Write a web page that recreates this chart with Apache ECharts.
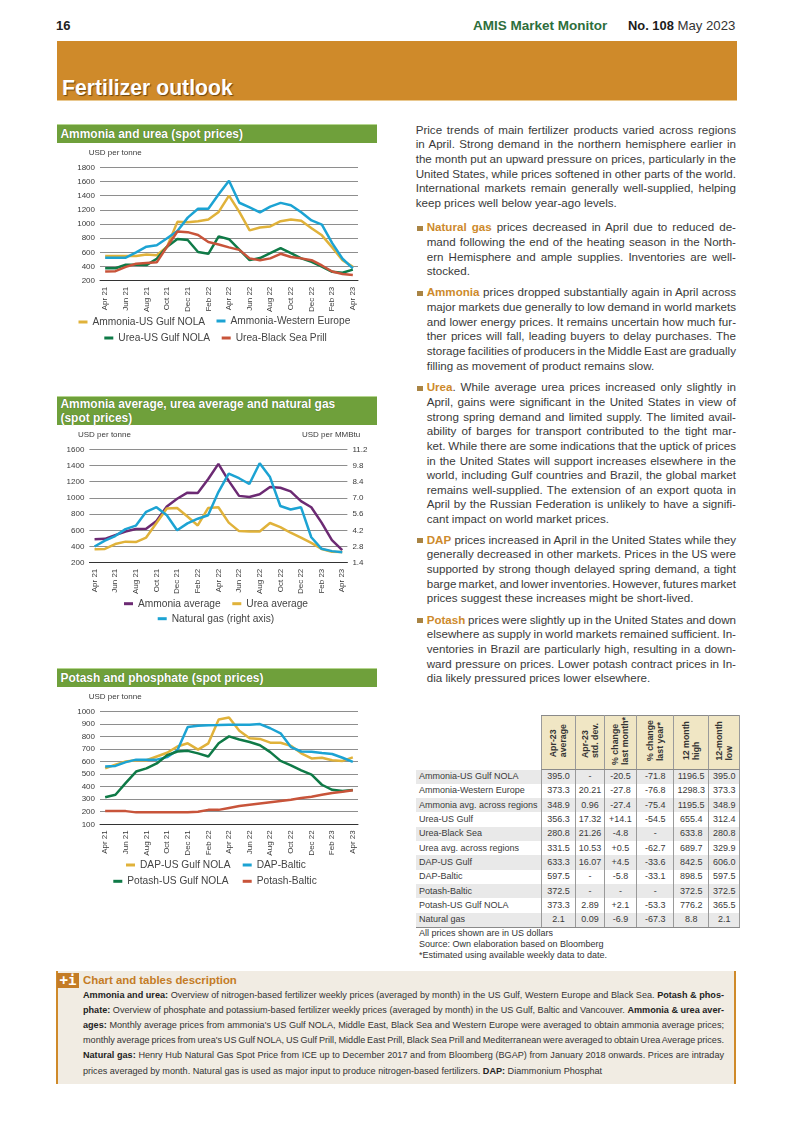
<!DOCTYPE html>
<html><head><meta charset="utf-8">
<script src="https://cdn.jsdelivr.net/npm/echarts@6/dist/echarts.min.js"></script>
<style>
html,body{margin:0;padding:0;background:#fff}
body{position:relative;width:793px;height:1122px;overflow:hidden;font-family:"Liberation Sans",Arial,sans-serif;color:#333}
.a{position:absolute;white-space:nowrap}
.bar{position:absolute;left:57px;width:320px;background:#6fa03b;border-top:1px solid #b5d68f;box-sizing:border-box;color:#fff;font-weight:bold;font-size:11.95px;line-height:14.3px;padding-left:3.5px;text-shadow:0 0 1px #3d5c1e}
.chart{position:absolute;left:50px;width:340px}
.ln{position:absolute;white-space:nowrap;font-size:11.6px;line-height:14.6px;height:14.6px;color:#3a3a3a}
.ln b{color:#cd8a2c}
.sq{position:absolute;left:417px;width:5.5px;height:5.5px;background:#a98444}
.d{position:absolute;white-space:nowrap;font-size:9.1px;line-height:15px;height:15px;color:#333}
.d b{color:#222}
table{position:absolute;left:416px;top:715px;border-collapse:collapse;table-layout:fixed;font-size:9px;color:#3a3a3a}
td,th{padding:0;height:14.33px;line-height:13px;box-sizing:border-box;text-align:center;overflow:hidden;white-space:nowrap}
td.v,th.v{border-left:1px solid #9a9a9a;border-right:1px solid #9a9a9a}
td.n{text-align:left;padding-left:3px}
tr.s td{background:#e9e9e9}
tr:last-child td{border-bottom:1px solid #8a8a8a}
th.v{background:#f0e6c4;border-top:1px solid #8a8a8a;border-bottom:1px solid #8a8a8a;height:54px;color:#333}
th.v div{writing-mode:vertical-rl;transform:rotate(180deg);font-size:8.8px;line-height:10.3px;font-weight:bold;display:inline-block;text-align:left}
</style></head>
<body>
<div class="a" style="left:56px;top:18px;font-size:13px;font-weight:bold;color:#222">16</div>
<div class="a" style="left:473px;top:18px;font-size:13.5px;font-weight:bold;color:#2e6e3c">AMIS Market Monitor</div>
<div class="a" style="left:628px;top:18px;font-size:12.9px;font-weight:bold;color:#1c1c1c">No. 108 <span style="font-weight:normal;color:#333;font-size:13.2px">May 2023</span></div>
<div style="position:absolute;left:57px;top:41px;width:680px;height:60px;background:#cf8a2a;border-bottom:1px solid #e9c88f;box-sizing:border-box"></div>
<div class="a" style="left:62px;top:76px;font-size:21.2px;font-weight:bold;color:#fff;text-shadow:1px 1px 1px #6b4510">Fertilizer outlook</div>

<div class="bar" style="top:124px;height:19px;line-height:19px">Ammonia and urea (spot prices)</div>
<div class="bar" style="top:396px;height:28.5px;padding-top:0">Ammonia average, urea average and natural gas<br>(spot prices)</div>
<div class="bar" style="top:668px;height:19px;line-height:19px">Potash and phosphate (spot prices)</div>

<div id="c1" class="chart" style="top:145px;height:205px"></div>
<div id="c2" class="chart" style="top:428px;height:205px"></div>
<div id="c3" class="chart" style="top:690px;height:205px"></div>

<div id="body"></div>
<table id="tb"></table>
<div class="a" style="left:419px;top:928px;font-size:9px;line-height:11.1px;color:#333">All prices shown are in US dollars<br>Source: Own elaboration based on Bloomberg<br>*Estimated using available weekly data to date.</div>

<div style="position:absolute;left:56px;top:971px;width:680px;height:113px;background:#f1ece3;border-left:2px solid #cf8a2a;border-right:2px solid #cf8a2a;box-sizing:border-box"></div>
<div class="a" style="left:57px;top:973px;width:22px;height:15px;background:#c47c26;color:#fff;font:bold 14px/15px 'DejaVu Sans Mono',monospace;text-align:center">+i</div>
<div class="a" style="left:83px;top:973px;font-size:11.4px;line-height:15px;font-weight:bold;color:#c47c26">Chart and tables description</div>
<div id="desc"></div>

<script>
// ---------- chart data ----------
var months = ['Apr 21','May 21','Jun 21','Jul 21','Aug 21','Sep 21','Oct 21','Nov 21','Dec 21','Jan 22','Feb 22','Mar 22','Apr 22','May 22','Jun 22','Jul 22','Aug 22','Sep 22','Oct 22','Nov 22','Dec 22','Jan 23','Feb 23','Mar 23','Apr 23'];

var ammoniaUS   = [550,550,550,550,570,560,680,1030,1025,1040,1065,1170,1400,1170,910,950,965,1040,1065,1045,940,840,670,490,395];
var ammoniaWE   = [525,525,525,600,680,700,800,900,1090,1215,1215,1420,1610,1300,1235,1165,1245,1298,1265,1165,1050,990,730,510,373];
var ureaUS      = [375,375,425,425,420,510,680,790,775,605,580,825,785,640,490,520,590,660,590,515,465,400,325,312,356];
var ureaBS      = [330,335,395,440,450,460,680,895,885,845,745,710,670,635,515,490,515,580,535,515,490,415,330,295,281];

var ammoniaAvg  = [490,495,540,585,615,620,715,895,990,1065,1060,1230,1420,1210,1025,1012,1045,1135,1125,1080,960,885,695,480,355];
var ureaAvg     = [365,370,430,460,455,510,690,870,875,770,660,875,885,695,590,585,585,690,640,570,510,445,370,335,331];
var natGas      = [2.8,3.3,3.7,4.3,4.6,5.8,6.2,5.5,4.2,4.8,5.2,5.5,7.5,9.1,8.7,8.2,10.0,8.8,6.3,6.0,6.2,3.6,2.6,2.4,2.3];

var dapUS       = [545,575,600,610,610,640,670,720,745,695,745,935,950,845,785,780,750,750,725,665,625,630,610,605,633];
var dapBaltic   = [560,565,595,615,615,615,635,690,875,885,888,890,893,893,893,898,865,825,715,680,678,668,660,630,597];
var potashUS    = [315,335,430,520,545,585,650,680,685,665,640,745,800,775,755,730,675,605,570,530,495,415,375,365,373];
var potashBaltic= [205,205,205,195,195,195,195,195,195,200,215,215,230,245,255,265,275,285,295,310,320,335,350,360,372];

// ---------- table data ----------
var tableHeaders = ['Apr-23<br>average','Apr-23<br>std. dev.','% change<br>last month*','% change<br>last year*','12 month<br>high','12-month<br>low'];
var tableRowNames = ['Ammonia-US Gulf NOLA','Ammonia-Western Europe','Ammonia avg. across regions','Urea-US Gulf','Urea-Black Sea','Urea avg. across regions','DAP-US Gulf','DAP-Baltic','Potash-Baltic','Potash-US Gulf NOLA','Natural gas'];
var colAverage = ['395.0','373.3','348.9','356.3','280.8','331.5','633.3','597.5','372.5','373.3','2.1'];
var colStdDev  = ['-','20.21','0.96','17.32','21.26','10.53','16.07','-','-','2.89','0.09'];
var colMonth   = ['-20.5','-27.8','-27.4','+14.1','-4.8','+0.5','+4.5','-5.8','-','+2.1','-6.9'];
var colYear    = ['-71.8','-76.8','-75.4','-54.5','-','-62.7','-33.6','-33.1','-','-53.3','-67.3'];
var colHigh    = ['1196.5','1298.3','1195.5','655.4','633.8','689.7','842.5','898.5','372.5','776.2','8.8'];
var colLow     = ['395.0','373.3','348.9','312.4','280.8','329.9','606.0','597.5','372.5','365.5','2.1'];

// ---------- colours ----------
var YEL='#e0b23a', BLU='#1ca3d3', GRN='#0f7a47', RED='#c8543a', PUR='#6c2a73';

// ---------- chart builder; coordinates in page pixels ----------
var FONT='"Liberation Sans",Arial,sans-serif';
function build(id, divTop, cfg){
  var ox=50, oy=divTop;
  var chart=echarts.init(document.getElementById(id),null,{renderer:'canvas'});
  var legends=cfg.series.map(function(s){
    return {show:true,data:[s.name],left:s.lx-ox,top:s.ly-oy-5,orient:'horizontal',icon:'rect',itemWidth:9,itemHeight:3,
      padding:0,textStyle:{fontFamily:FONT,fontSize:10.2,color:'#444'},selectedMode:false};
  });
  var yAxes=[{type:'value',min:cfg.min,max:cfg.max,interval:cfg.interval,
    axisLine:{show:false},axisTick:{show:false},
    axisLabel:{fontFamily:FONT,fontSize:8,color:'#3a3a3a',margin:5,formatter:function(v){return String(v);}},
    splitLine:{lineStyle:{color:'#8e8e8e',width:1}}}];
  if(cfg.right){yAxes.push({type:'value',position:'right',min:cfg.right.min,max:cfg.right.max,interval:cfg.right.interval,
    axisLine:{show:false},axisTick:{show:false},splitLine:{show:false},
    axisLabel:{fontFamily:FONT,fontSize:8,color:'#3a3a3a',margin:5,formatter:function(v){return v.toFixed(1);}}});}
  chart.setOption({
    animation:false,backgroundColor:'transparent',
    grid:{left:cfg.gl-ox,top:cfg.gt-oy,width:258,height:cfg.gh},
    xAxis:{type:'category',data:months,boundaryGap:true,
      axisLine:{lineStyle:{color:'#333',width:1}},
      axisTick:{alignWithLabel:true,interval:1,length:3,lineStyle:{color:'#333'}},
      axisLabel:{interval:1,rotate:90,fontFamily:FONT,fontSize:8,color:'#3a3a3a',margin:6},
      splitLine:{show:false}},
    yAxis:yAxes,
    legend:legends,
    graphic:cfg.units.map(function(u){return {type:'text',left:u.x-ox,top:u.y-oy-5,silent:true,
      style:{text:u.t,fontFamily:FONT,fontSize:8,fill:'#3a3a3a'}};}),
    series:cfg.series.map(function(s){return {name:s.name,type:'line',data:s.data,yAxisIndex:s.y||0,
      symbol:'none',smooth:false,color:s.c,itemStyle:{color:s.c},lineStyle:{color:s.c,width:2.5},z:s.z||2};})
  });
}
build('c1',145,{gl:100,gt:167.3,gh:113.4,min:200,max:1800,interval:200,
  units:[{t:'USD per tonne',x:88.7,y:153.7}],
  series:[
   {name:'Ammonia-US Gulf NOLA',data:ammoniaUS,c:YEL,lx:78.5,ly:322},
   {name:'Ammonia-Western Europe',data:ammoniaWE,c:BLU,lx:216.5,ly:321},
   {name:'Urea-US Gulf NOLA',data:ureaUS,c:GRN,lx:104.3,ly:338},
   {name:'Urea-Black Sea Prill',data:ureaBS,c:RED,lx:221.7,ly:338}]});
build('c2',428,{gl:89.4,gt:449.3,gh:113.4,min:200,max:1600,interval:200,
  right:{min:1.4,max:11.2,interval:1.4},
  units:[{t:'USD per tonne',x:78,y:436},{t:'USD per MMBtu',x:302,y:436}],
  series:[
   {name:'Ammonia average',data:ammoniaAvg,c:PUR,lx:124,ly:603.7},
   {name:'Urea average',data:ureaAvg,c:YEL,lx:232.3,ly:603.7},
   {name:'Natural gas (right axis)',data:natGas,c:BLU,y:1,lx:157.7,ly:618.7,z:3}]});
build('c3',690,{gl:100,gt:711.3,gh:113,min:100,max:1000,interval:100,
  units:[{t:'USD per tonne',x:88.7,y:697.7}],
  series:[
   {name:'DAP-US Gulf NOLA',data:dapUS,c:YEL,lx:126,ly:865},
   {name:'DAP-Baltic',data:dapBaltic,c:BLU,lx:242.7,ly:865},
   {name:'Potash-US Gulf NOLA',data:potashUS,c:GRN,lx:113.3,ly:881.3},
   {name:'Potash-Baltic',data:potashBaltic,c:RED,lx:242.7,ly:881.3}]});

// ---------- body text: every printed line ----------
var paragraphs=[
 {cy:130,x:415.7,lines:['Price trends of main fertilizer products varied across regions','in April. Strong demand in the northern hemisphere earlier in','the month put an upward pressure on prices, particularly in the','United States, while prices softened in other parts of the world.','International markets remain generally well-supplied, helping','keep prices well below year-ago levels.']},
 {cy:227.7,x:426.7,sq:1,lines:['<b>Natural gas</b> prices decreased in April due to reduced de-','mand following the end of the heating season in the North-','ern Hemisphere and ample supplies. Inventories are well-','stocked.']},
 {cy:292.7,x:426.7,sq:1,lines:['<b>Ammonia</b> prices dropped substantially again in April across','major markets due generally to low demand in world markets','and lower energy prices. It remains uncertain how much fur-','ther prices will fall, leading buyers to delay purchases. The','storage facilities of producers in the Middle East are gradually','filling as movement of product remains slow.']},
 {cy:387.7,x:426.7,sq:1,lines:['<b>Urea</b>. While average urea prices increased only slightly in','April, gains were significant in the United States in view of','strong spring demand and limited supply. The limited avail-','ability of barges for transport contributed to the tight mar-','ket. While there are some indications that the uptick of prices','in the United States will support increases elsewhere in the','world, including Gulf countries and Brazil, the global market','remains well-supplied. The extension of an export quota in','April by the Russian Federation is unlikely to have a signifi-','cant impact on world market prices.']},
 {cy:540,x:426.7,sq:1,lines:['<b>DAP</b> prices increased in April in the United States while they','generally decreased in other markets. Prices in the US were','supported by strong though delayed spring demand, a tight','barge market, and lower inventories. However, futures market','prices suggest these increases might be short-lived.']},
 {cy:620,x:426.7,sq:1,lines:['<b>Potash</b> prices were slightly up in the United States and down','elsewhere as supply in world markets remained sufficient. In-','ventories in Brazil are particularly high, resulting in a down-','ward pressure on prices. Lower potash contract prices in In-','dia likely pressured prices lower elsewhere.']}
];
var descLines=['<b>Ammonia and urea:</b> Overview of nitrogen-based fertilizer weekly prices (averaged by month) in the US Gulf, Western Europe and Black Sea. <b>Potash &amp; phos-</b>',
 '<b>phate:</b> Overview of phosphate and potassium-based fertilizer weekly prices (averaged by month) in the US Gulf, Baltic and Vancouver. <b>Ammonia &amp; urea aver-</b>',
 '<b>ages:</b> Monthly average prices from ammonia\'s US Gulf NOLA, Middle East, Black Sea and Western Europe were averaged to obtain ammonia average prices;',
 'monthly average prices from urea\'s US Gulf NOLA, US Gulf Prill, Middle East Prill, Black Sea Prill and Mediterranean were averaged to obtain Urea Average prices.',
 '<b>Natural gas:</b> Henry Hub Natural Gas Spot Price from ICE up to December 2017 and from Bloomberg (BGAP) from January 2018 onwards. Prices are intraday',
 'prices averaged by month. Natural gas is used as major input to produce nitrogen-based fertilizers. <b>DAP:</b> Diammonium Phosphat'];

function fit(el,w){
  var sp=(el.textContent.match(/ /g)||[]).length;
  if(!sp)return;
  var nat=el.getBoundingClientRect().width;
  el.style.wordSpacing=((w-nat)/sp)+'px';
}
var bodyEl=document.getElementById('body');
paragraphs.forEach(function(p){
  if(p.sq){var q=document.createElement('div');q.className='sq';q.style.top=(p.cy-2.2)+'px';bodyEl.appendChild(q);}
  p.lines.forEach(function(t,i){
    var e=document.createElement('div');e.className='ln';e.innerHTML=t;
    e.style.left=p.x+'px';e.style.top=(p.cy+i*14.62-7.3)+'px';
    bodyEl.appendChild(e);
    if(i<p.lines.length-1) fit(e,736-p.x);
  });
});
var descEl=document.getElementById('desc');
descLines.forEach(function(t,i){
  var e=document.createElement('div');e.className='d';e.innerHTML=t;
  e.style.left='83px';e.style.top=(995+i*15.2-7.5)+'px';
  descEl.appendChild(e);
  if(i<descLines.length-1) fit(e,641);
});

// ---------- table ----------
var widths=[125.3,34.4,28.6,32.4,37,35,31];
var cols=[colAverage,colStdDev,colMonth,colYear,colHigh,colLow];
var h='<colgroup>'+widths.map(function(w){return '<col style="width:'+w+'px">';}).join('')+'</colgroup>';
h+='<tr><th style="height:54px"></th>'+tableHeaders.map(function(t){return '<th class="v"><div>'+t+'</div></th>';}).join('')+'</tr>';
tableRowNames.forEach(function(n,r){
  h+='<tr'+(r%2===0?' class="s"':'')+'><td class="n">'+n+'</td>'+cols.map(function(c){return '<td class="v">'+c[r]+'</td>';}).join('')+'</tr>';
});
var tb=document.getElementById('tb');tb.style.width='323.7px';tb.innerHTML=h;
</script>
</body></html>
